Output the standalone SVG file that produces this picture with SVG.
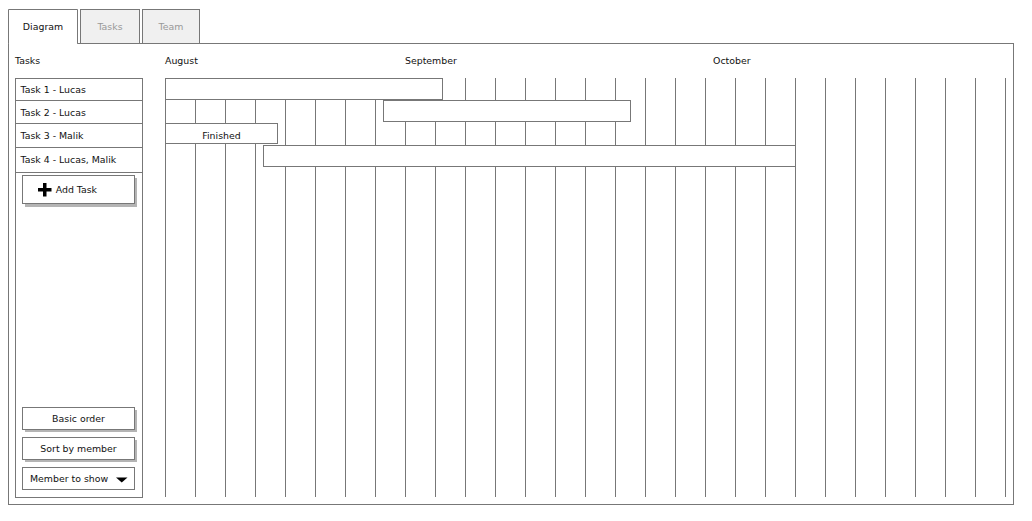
<svg xmlns="http://www.w3.org/2000/svg" width="1032" height="521" viewBox="0 0 1032 521">
<style>
.ln{fill:none;stroke:#777;stroke-width:1}
.box{fill:#fff;stroke:#777;stroke-width:1}
.tab{fill:#f0f0f0;stroke:#777;stroke-width:1}
.sh{fill:#b4b4b4}
text{font-family:"DejaVu Sans","Liberation Sans",sans-serif;font-size:9.4px;fill:#111}
.grey{fill:#999}
.mid{text-anchor:middle}
</style>
<rect width="1032" height="521" fill="#fff"/>
<g id="main-frame">
<rect class="box" x="8.5" y="43.5" width="1005" height="461"/>
</g>
<g id="tabs">
<g id="tab-diagram">
<path class="box" d="M8.5 43.5 V9.5 H77.5 V43.5"/>
<line x1="9" y1="43.5" x2="77" y2="43.5" stroke="#fff" stroke-width="1.5"/>
<text x="43" y="29.5" class="mid">Diagram</text>
</g>
<g id="tab-tasks">
<rect class="tab" x="80.5" y="9.5" width="59" height="34"/>
<text x="110" y="29.5" class="mid grey">Tasks</text>
</g>
<g id="tab-team">
<rect class="tab" x="142.5" y="9.5" width="57" height="34"/>
<text x="171" y="29.5" class="mid grey">Team</text>
</g>
</g>
<g id="labels">
<text x="15" y="63.5">Tasks</text>
<text x="165" y="63.5">August</text>
<text x="405" y="63.5">September</text>
<text x="713" y="63.5">October</text>
</g>
<g id="task-list">
<rect class="box" x="15.5" y="78.5" width="127" height="419"/>
<line class="ln" x1="15.5" y1="100.5" x2="142.5" y2="100.5"/>
<line class="ln" x1="15.5" y1="123.5" x2="142.5" y2="123.5"/>
<line class="ln" x1="15.5" y1="147.5" x2="142.5" y2="147.5"/>
<line class="ln" x1="15.5" y1="172.5" x2="142.5" y2="172.5"/>
<text x="20.5" y="92.7">Task 1 - Lucas</text>
<text x="20.5" y="116">Task 2 - Lucas</text>
<text x="20.5" y="139.3">Task 3 - Malik</text>
<text x="20.5" y="163.3">Task 4 - Lucas, Malik</text>
</g>
<g id="btn-add-task">
<rect class="sh" x="25" y="178" width="112" height="29"/>
<rect class="box" x="22.5" y="175.5" width="112" height="28"/>
<path d="M43 183 h3.5 v5 h5 v3.5 h-5 v5 h-3.5 v-5 h-5 v-3.5 h5 z" fill="#000"/>
<text x="55.7" y="193">Add Task</text>
</g>
<g id="btn-basic-order">
<rect class="sh" x="25" y="410" width="112" height="22"/>
<rect class="box" x="22.5" y="407.5" width="112" height="22"/>
<text x="78.5" y="421.7" class="mid">Basic order</text>
</g>
<g id="btn-sort-member">
<rect class="sh" x="25" y="440" width="112" height="22"/>
<rect class="box" x="22.5" y="437.5" width="112" height="22"/>
<text x="78.5" y="451.7" class="mid">Sort by member</text>
</g>
<g id="dropdown-member">
<rect class="box" x="22.5" y="467.5" width="112" height="22"/>
<text x="30" y="482">Member to show</text>
<path d="M116 477.5 h11.5 l-5.75 5 z" fill="#000"/>
</g>
<g id="grid">
<path class="ln" d="M165.5 78V497 M195.5 78V497 M225.5 78V497 M255.5 78V497 M285.5 78V497 M315.5 78V497 M345.5 78V497 M375.5 78V497 M405.5 78V497 M435.5 78V497 M465.5 78V497 M495.5 78V497 M525.5 78V497 M555.5 78V497 M585.5 78V497 M615.5 78V497 M645.5 78V497 M675.5 78V497 M705.5 78V497 M735.5 78V497 M765.5 78V497 M795.5 78V497 M825.5 78V497 M855.5 78V497 M885.5 78V497 M915.5 78V497 M945.5 78V497 M975.5 78V497 M1005.5 78V497"/>
</g>
<g id="bar-task1">
<rect class="box" x="165.5" y="78.5" width="277" height="21"/>
</g>
<g id="bar-task2">
<rect class="box" x="383.5" y="100.5" width="247" height="21"/>
</g>
<g id="bar-task3">
<rect class="box" x="165.5" y="123.5" width="112" height="20"/>
<text x="221.5" y="139" class="mid">Finished</text>
</g>
<g id="bar-task4">
<rect class="box" x="263.5" y="145.5" width="532" height="21"/>
</g>
</svg>
